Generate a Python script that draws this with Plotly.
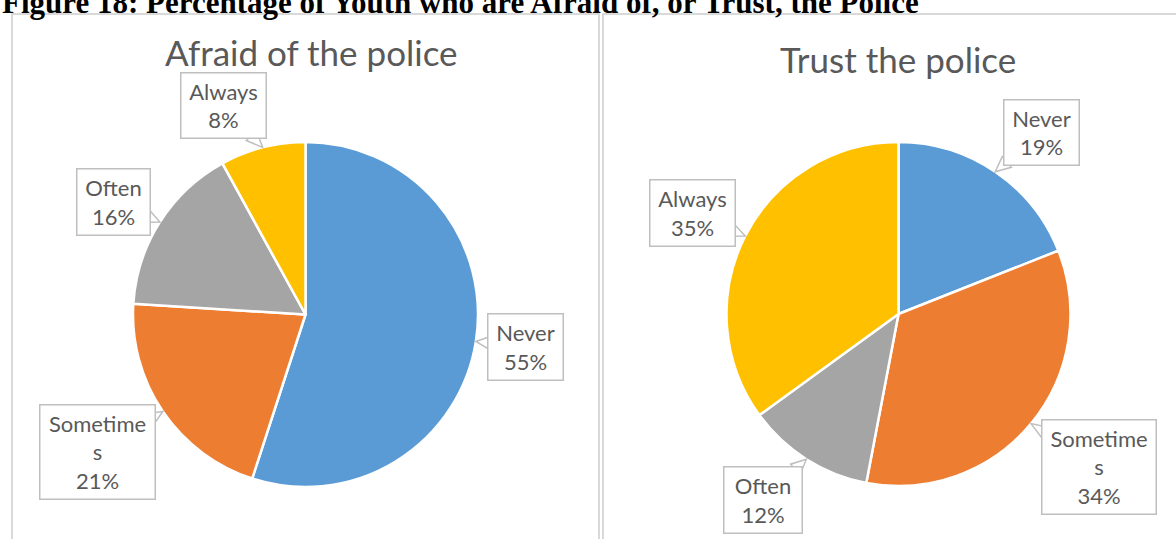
import math
import plotly.graph_objects as go

W, H = 1176, 539

categories = ["Never", "Sometimes", "Often", "Always"]
afraid_pct = [55, 21, 16, 8]
trust_pct = [19, 34, 12, 35]
label_text = ["Never", "Sometime<br>s", "Often", "Always"]

colors = ["#5B9BD5", "#ED7D31", "#A5A5A5", "#FFC000"]
text_grey = "#595959"
box_grey = "#BFBFBF"
frame_grey = "#D9D9D9"
label_font = "Lato"

# pie geometry in pixels (centre x, centre y, radius)
pies = [
    dict(title="Afraid of the police", values=afraid_pct, cx=305.5, cy=314.5, r=172.5,
         title_x=311, title_y=52,
         # callout boxes: x0, y0, x1, y1 in pixels
         boxes=[(487, 313, 563, 380), (39, 404, 155, 499), (76, 168, 150, 235), (180, 73, 266, 139)]),
    dict(title="Trust the police", values=trust_pct, cx=898.5, cy=314, r=172,
         title_x=898, title_y=59,
         boxes=[(1003, 100, 1079, 166), (1041, 419, 1156, 514), (723, 466, 802, 533), (649, 180, 735, 247)]),
]


def px(x):
    return x / W


def py(y):
    return 1 - y / H


fig = go.Figure()
shapes = []
annotations = []

# panel frames
shapes.append(dict(type="rect", xref="paper", yref="paper", x0=px(12), x1=px(599), y0=py(14), y1=py(560),
                   line=dict(color=frame_grey, width=2), fillcolor="rgba(0,0,0,0)", layer="below"))
shapes.append(dict(type="rect", xref="paper", yref="paper", x0=px(603), x1=px(1200), y0=py(14), y1=py(560),
                   line=dict(color=frame_grey, width=2), fillcolor="rgba(0,0,0,0)", layer="below"))

for p in pies:
    cx, cy, r = p["cx"], p["cy"], p["r"]
    fig.add_trace(go.Pie(
        labels=categories, values=p["values"], sort=False, direction="clockwise", rotation=0,
        marker=dict(colors=colors, line=dict(color="white", width=2.5)),
        textinfo="none", hoverinfo="label+percent", showlegend=False,
        domain=dict(x=[px(cx - r), px(cx + r)], y=[py(cy + r), py(cy - r)]),
    ))
    annotations.append(dict(text=p["title"], xref="paper", yref="paper", x=px(p["title_x"]), y=py(p["title_y"]),
                            xanchor="center", yanchor="middle", showarrow=False,
                            font=dict(family=label_font, size=35, color=text_grey)))

    total = sum(p["values"])
    cum = 0
    for val, lab, box in zip(p["values"], label_text, p["boxes"]):
        mid = (cum + val / 2) / total * 2 * math.pi
        cum += val
        # tip of the callout pointer on the pie edge at the slice's mid angle
        tx, ty = cx + r * math.sin(mid), cy - r * math.cos(mid)
        x0, y0, x1, y1 = box
        bx, by = (x0 + x1) / 2, (y0 + y1) / 2
        dx, dy = tx - bx, ty - by
        hw, hh = (x1 - x0) / 2, (y1 - y0) / 2
        s = min(hw / abs(dx) if dx else 1e9, hh / abs(dy) if dy else 1e9)
        ex, ey = bx + dx * s * 0.9, by + dy * s * 0.9
        d = math.hypot(dx, dy)
        nx, ny = -dy / d * 7, dx / d * 7
        path = "M {} {} L {} {} L {} {} Z".format(
            px(ex + nx), py(ey + ny), px(tx), py(ty), px(ex - nx), py(ey - ny))
        shapes.append(dict(type="path", xref="paper", yref="paper", path=path,
                           line=dict(color=box_grey, width=1.5), fillcolor="white", layer="above"))
        annotations.append(dict(
            text="{}<br>{}%".format(lab, val), xref="paper", yref="paper", x=px(bx), y=py(by),
            xanchor="center", yanchor="middle", showarrow=False,
            width=x1 - x0 - 2, height=y1 - y0 - 2, borderpad=0,
            bgcolor="white", bordercolor=box_grey, borderwidth=1.5,
            font=dict(family=label_font, size=22, color=text_grey)))

# figure caption running off the top edge
annotations.append(dict(text="<b>Figure 18: Percentage of Youth who are Afraid of, or Trust, the Police</b>",
                        xref="paper", yref="paper", x=0, y=py(22.5), xanchor="left", yanchor="bottom",
                        showarrow=False, font=dict(family="Liberation Serif", size=31, color="black")))

fig.update_layout(width=W, height=H, margin=dict(l=0, r=0, t=0, b=0),
                  paper_bgcolor="white", plot_bgcolor="white",
                  shapes=shapes, annotations=annotations)

fig.write_html("out.html")
